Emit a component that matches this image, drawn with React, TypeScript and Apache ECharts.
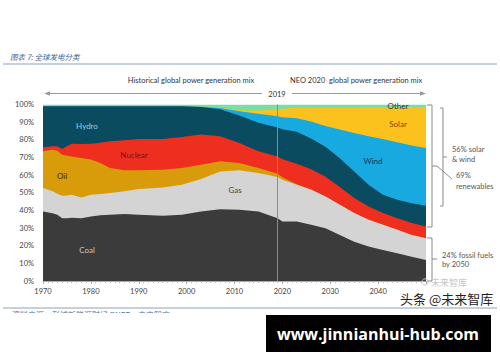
import React, { useEffect, useRef } from "react";
import * as echarts from "echarts";

const years = [1970, 1972, 1973, 1974, 1975, 1976, 1978, 1980, 1982, 1984, 1987, 1990, 1995, 1999, 2003, 2007, 2011, 2015, 2019, 2020, 2023, 2026, 2029, 2032, 2035, 2038, 2041, 2044, 2047, 2050];

const coal = [39.4, 38.4, 37.5, 35.6, 35.5, 35.8, 35.6, 36.6, 37.2, 37.5, 38.0, 37.5, 36.9, 37.5, 39.4, 40.7, 40.3, 39.4, 35.6, 33.7, 33.7, 31.8, 29.9, 26.1, 22.3, 19.5, 17.6, 15.7, 13.8, 11.9];
const gas = [13.3, 12.4, 12.0, 12.7, 13.0, 13.1, 11.7, 12.3, 12.1, 12.3, 12.8, 14.6, 16.1, 17.0, 18.4, 21.4, 22.4, 21.8, 23.3, 23.7, 20.8, 19.9, 18.0, 17.1, 16.2, 15.2, 14.2, 13.3, 12.3, 12.3];
const oil = [20.8, 23.6, 24.3, 23.3, 22.5, 21.7, 22.4, 19.9, 17.6, 14.2, 11.9, 10.6, 10.1, 9.5, 8.1, 5.7, 4.2, 2.8, 1.9, 1.4, 0.3, 0.1, 0, 0, 0, 0, 0, 0, 0, 0];
const nuclear = [2.3, 1.9, 2.6, 3.2, 5.5, 7.2, 7.9, 8.9, 11.4, 15.2, 17.0, 17.8, 17.4, 17.6, 17.1, 14.2, 11.3, 9.5, 9.7, 10.2, 11.7, 11.5, 11.1, 10.0, 8.5, 7.5, 6.7, 6.6, 6.7, 6.7];
const hydro = [23.2, 22.7, 22.6, 24.2, 22.5, 21.2, 21.4, 21.3, 20.7, 19.8, 19.3, 18.5, 18.5, 17.4, 15.6, 15.3, 15.6, 16.1, 16.5, 17.0, 18.0, 17.5, 17.0, 16.3, 15.0, 12.3, 10.4, 10.4, 11.3, 11.7];
const wind = [0, 0, 0, 0, 0, 0, 0, 0, 0, 0, 0, 0, 0, 0, 0.1, 0.7, 2.4, 5.2, 6.3, 6.8, 7.7, 9.5, 11.8, 16.3, 21.9, 27.5, 31.6, 32.6, 32.6, 32.8];
const solar = [0, 0, 0, 0, 0, 0, 0, 0, 0, 0, 0, 0, 0, 0, 0, 0.1, 0.5, 1.8, 3.7, 4.8, 5.9, 7.8, 10.3, 12.4, 14.3, 16.3, 17.8, 19.8, 21.7, 23.1];
const other = [1.0, 1.0, 1.0, 1.0, 1.0, 1.0, 1.0, 1.0, 1.0, 1.0, 1.0, 1.0, 1.0, 1.0, 1.3, 1.9, 3.3, 3.4, 3.0, 2.4, 1.9, 1.9, 1.9, 1.8, 1.8, 1.7, 1.7, 1.6, 1.6, 1.5];

const seriesNames = ["Coal", "Gas", "Oil", "Nuclear", "Hydro", "Wind", "Solar", "Other"];
const seriesValues = [coal, gas, oil, nuclear, hydro, wind, solar, other];
const seriesColors = ["#3b3b3b", "#d4d4d4", "#d89b0a", "#ee2f20", "#0b4b60", "#19a9e1", "#fbc21e", "#79dea4"];

const FONT = "Lato, 'Open Sans', sans-serif";

function txt(text: string, x: number, y: number, opts: any = {}) {
  const align = opts.align || "left";
  return {
    type: "text",
    x,
    y,
    z: 100,
    style: {
      text,
      fill: opts.fill || "#444",
      fontSize: opts.fontSize || 7.5,
      fontFamily: opts.fontFamily || FONT,
      fontWeight: opts.fontWeight || "normal",
      fontStyle: opts.fontStyle || "normal",
      align,
      verticalAlign: "middle",
      textAlign: align,
      textVerticalAlign: "middle",
    },
  };
}

function pline(points: number[][], stroke = "#8a8a8a") {
  return {
    type: "polyline",
    z: 100,
    shape: { points },
    style: { stroke, fill: null, lineWidth: 1 },
  };
}

export default function App() {
  const ref = useRef<HTMLDivElement>(null);

  useEffect(() => {
    document.body.style.margin = "0";
    const chart = echarts.init(ref.current!, undefined, { renderer: "svg" });

    const cumulative: number[][] = [];
    seriesValues.forEach((vals, i) => {
      cumulative.push(vals.map((v, k) => Math.round(((i > 0 ? cumulative[i - 1][k] : 0) + v) * 100) / 100));
    });

    const series: any[] = [];
    for (let i = seriesNames.length - 1; i >= 0; i--) {
      series.push({
        name: seriesNames[i],
        type: "line",
        symbol: "none",
        showSymbol: false,
        smooth: false,
        lineStyle: { width: 0 },
        areaStyle: { color: seriesColors[i], opacity: 1, origin: "start" },
        itemStyle: { color: seriesColors[i] },
        data: years.map((y, k) => [y, cumulative[i][k]]),
      });
    }
    series[series.length - 1].markLine = {
      silent: true,
      symbol: ["none", "none"],
      label: { show: false },
      lineStyle: { color: "#8c8c8c", width: 1, type: "solid" },
      data: [{ xAxis: 2019 }],
    };

    const graphic: any[] = [
      txt("图表 7: 全球发电分类", 10, 56.5, { fill: "#3d5f94", fontSize: 7.5, fontStyle: "italic", fontFamily: "'Noto Sans CJK SC', sans-serif" }),
      { type: "line", z: 100, shape: { x1: 3, y1: 64, x2: 497, y2: 64 }, style: { stroke: "#8da2bb", lineWidth: 1.2 } },
      txt("Historical global power generation mix", 191, 80, { align: "center", fill: "#333" }),
      txt("NEO 2020  global power generation mix", 290, 80, { fill: "#333" }),
      { type: "line", z: 100, shape: { x1: 48, y1: 93.5, x2: 262, y2: 93.5 }, style: { stroke: "#9a9a9a", lineWidth: 1 } },
      { type: "polygon", z: 100, shape: { points: [[44, 93.5], [50, 91.2], [50, 95.8]] }, style: { fill: "#9a9a9a" } },
      txt("2019", 277, 94, { align: "center", fill: "#333" }),
      { type: "line", z: 100, shape: { x1: 292, y1: 93.5, x2: 421, y2: 93.5 }, style: { stroke: "#9a9a9a", lineWidth: 1 } },
      { type: "polygon", z: 100, shape: { points: [[426, 93.5], [420, 91.2], [420, 95.8]] }, style: { fill: "#9a9a9a" } },
      txt("Hydro", 87, 126, { align: "center", fill: "#8fcfe6", fontSize: 8 }),
      txt("Nuclear", 134, 155, { align: "center", fill: "#6e1410", fontSize: 8 }),
      txt("Oil", 62, 176, { align: "center", fill: "#3a2a05", fontSize: 8 }),
      txt("Gas", 235, 190, { align: "center", fill: "#444", fontSize: 8 }),
      txt("Coal", 87, 250, { align: "center", fill: "#c8c8c8", fontSize: 8 }),
      txt("Wind", 373, 161, { align: "center", fill: "#0b3a55", fontSize: 8 }),
      txt("Solar", 398, 124, { align: "center", fill: "#7a4a05", fontSize: 8 }),
      txt("Other", 398, 105.5, { align: "center", fill: "#333", fontSize: 8 }),
      pline([[427, 105], [432, 105], [432, 227], [427, 227]]),
      pline([[432, 166], [437, 166], [452, 179]]),
      pline([[440, 108], [443, 108], [443, 206], [440, 206]]),
      pline([[443, 157], [447, 157]]),
      pline([[427, 238], [432, 238], [432, 281], [427, 281]]),
      pline([[432, 259], [437, 259]]),
      txt("56% solar", 452, 149, { fill: "#555", fontSize: 7.5 }),
      txt("& wind", 452, 159, { fill: "#555", fontSize: 7.5 }),
      txt("69%", 456, 175.5, { fill: "#555", fontSize: 7.5 }),
      txt("renewables", 456, 186, { fill: "#555", fontSize: 7.5 }),
      txt("24% fossil fuels", 442, 255.5, { fill: "#555", fontSize: 7.5 }),
      txt("by 2050", 442, 264, { fill: "#555", fontSize: 7.5 }),
      { type: "circle", z: 100, shape: { cx: 425, cy: 282, r: 3.2 }, style: { stroke: "#c8c8c8", fill: null, lineWidth: 1 } },
      txt("未来智库", 431, 282, { fill: "#c8c8c8", fontSize: 9, fontFamily: "'Noto Sans CJK SC', sans-serif" }),
      txt("头条 @未来智库", 400, 298.5, { fill: "#222", fontSize: 13, fontFamily: "'Noto Sans CJK SC', sans-serif" }),
      { type: "line", z: 100, shape: { x1: 3, y1: 308, x2: 497, y2: 308 }, style: { stroke: "#8da2bb", lineWidth: 1.2 } },
      txt("资料来源：彭博新能源财经 BNEF，未来智库", 12, 314, { fill: "#4a6fa5", fontSize: 8, fontFamily: "'Noto Sans CJK SC', sans-serif" }),
      { type: "rect", z: 101, shape: { x: 0, y: 313, width: 265, height: 49 }, style: { fill: "#ffffff" } },
      { type: "rect", z: 101, shape: { x: 266, y: 315, width: 225, height: 37 }, style: { fill: "#000000" } },
      { ...txt("www.jinnianhui-hub.com", 378, 333.5, { align: "center", fill: "#ffffff", fontSize: 16, fontWeight: "bold", fontFamily: "'Open Sans', 'DejaVu Sans', sans-serif" }), z: 102 },
    ];

    chart.setOption({
      animation: false,
      backgroundColor: "#ffffff",
      grid: { left: 43, right: 74, top: 104.5, bottom: 81, containLabel: false },
      xAxis: {
        type: "value",
        min: 1970,
        max: 2050,
        interval: 10,
        axisLine: { show: true, lineStyle: { color: "#aaaaaa", width: 1 } },
        axisTick: { show: true, length: 3, lineStyle: { color: "#aaaaaa" } },
        minorTick: { show: true, splitNumber: 10, length: 2, lineStyle: { color: "#bbbbbb" } },
        splitLine: { show: false },
        axisLabel: {
          color: "#444",
          fontSize: 7.5,
          fontFamily: FONT,
          margin: 6,
          formatter: (v: number) => (v === 2050 ? "" : String(v)),
        },
      },
      yAxis: {
        type: "value",
        min: 0,
        max: 100,
        interval: 10,
        axisLine: { show: false },
        axisTick: { show: false },
        splitLine: { show: false },
        axisLabel: { color: "#444", fontSize: 7.5, fontFamily: FONT, margin: 9, formatter: "{value}%" },
      },
      series,
      graphic,
    });

    return () => chart.dispose();
  }, []);

  return <div ref={ref} style={{ width: 500, height: 362 }} />;
}
